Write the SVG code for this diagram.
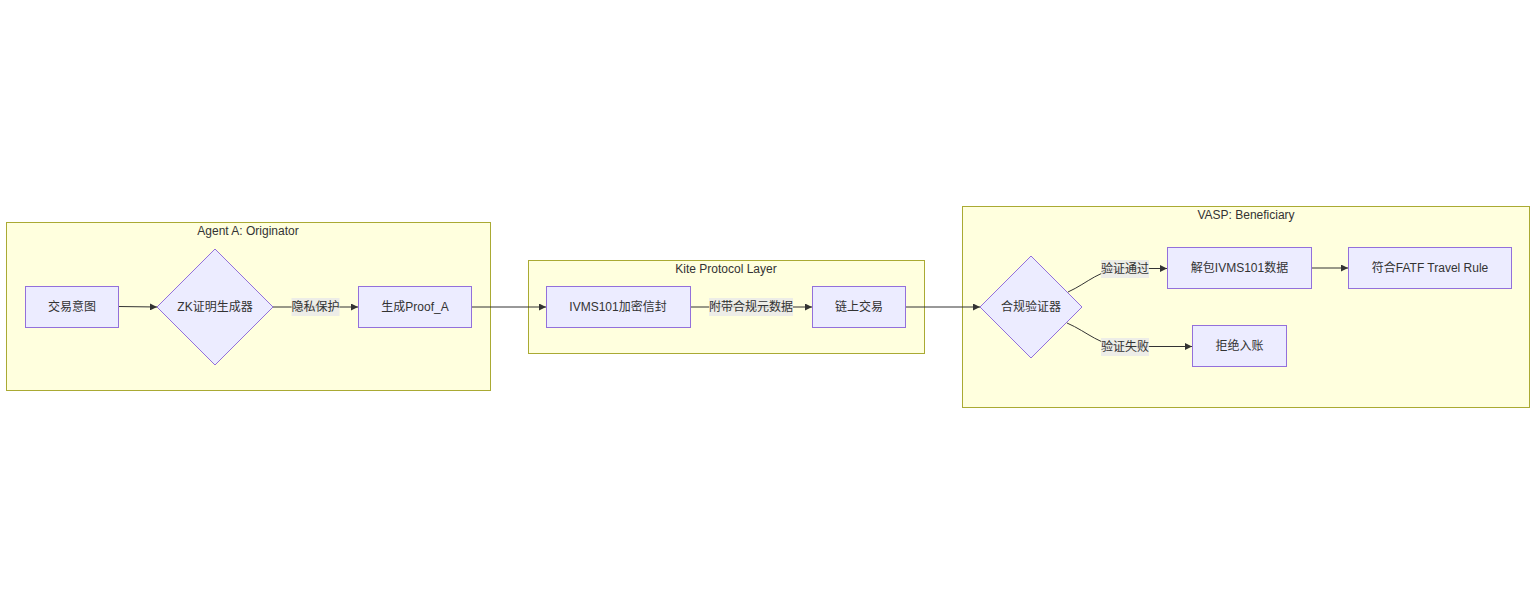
<svg xmlns="http://www.w3.org/2000/svg" width="1536" height="614" viewBox="0 0 1536 614">
<style>
  .cluster { fill: #ffffde; stroke: #aaaa33; stroke-width: 1; }
  .node { fill: #ececff; stroke: #9370db; stroke-width: 1; }
  .t { font-family: "Liberation Sans", Arial, "Noto Sans CJK SC", sans-serif; font-size: 12px; fill: #333333; text-anchor: middle; dominant-baseline: central; }
  .edge { fill: none; stroke: #333333; stroke-width: 1; }
  .lbl { fill: #e8e8e8; fill-opacity: 0.8; }
</style>
<defs>
  <marker id="arrow" viewBox="0 0 10 10" refX="10" refY="5" markerUnits="userSpaceOnUse" markerWidth="7" markerHeight="7" orient="auto">
    <path d="M0,0 L10,5 L0,10 z" fill="#333333"/>
  </marker>
</defs>
<rect width="1536" height="614" fill="#ffffff"/>

<g id="cluster-agentA">
  <rect class="cluster" x="6.5" y="222.5" width="484" height="168"/>
  <text class="t" x="248" y="231">Agent A: Originator</text>
</g>
<g id="cluster-kite">
  <rect class="cluster" x="528.5" y="260.5" width="396" height="93"/>
  <text class="t" x="726" y="269">Kite Protocol Layer</text>
</g>
<g id="cluster-vasp">
  <rect class="cluster" x="962.5" y="206.5" width="567" height="201"/>
  <text class="t" x="1246" y="215">VASP: Beneficiary</text>
</g>

<g id="edges">
  <path class="edge" d="M118,306.5 L157,307" marker-end="url(#arrow)"/>
  <path class="edge" d="M273,307 L358,307" marker-end="url(#arrow)"/>
  <path class="edge" d="M471,307 L546,307" marker-end="url(#arrow)"/>
  <path class="edge" d="M690,307 L812,307" marker-end="url(#arrow)"/>
  <path class="edge" d="M906,307 L980,307" marker-end="url(#arrow)"/>
  <path class="edge" d="M1068,292 C1088,283 1100,268.5 1125,268.5 L1167,268.5" marker-end="url(#arrow)"/>
  <path class="edge" d="M1311,268 L1348,268" marker-end="url(#arrow)"/>
  <path class="edge" d="M1067,323 C1088,332 1100,346.5 1125,346.5 L1192,346.5" marker-end="url(#arrow)"/>
</g>

<g id="edge-labels">
  <rect class="lbl" x="291.5" y="298" width="48" height="18"/>
  <text class="t" x="315.5" y="307">隐私保护</text>
  <rect class="lbl" x="709" y="298" width="84" height="18"/>
  <text class="t" x="751" y="307">附带合规元数据</text>
  <rect class="lbl" x="1101" y="260" width="48" height="18"/>
  <text class="t" x="1125" y="269">验证通过</text>
  <rect class="lbl" x="1101" y="338" width="48" height="18"/>
  <text class="t" x="1125" y="347">验证失败</text>
</g>

<g id="node-intent">
  <rect class="node" x="25.5" y="286.5" width="93" height="41"/>
  <text class="t" x="72" y="307">交易意图</text>
</g>
<g id="node-zk">
  <polygon class="node" points="215,249 273,307 215,365 157,307"/>
  <text class="t" x="215" y="307">ZK证明生成器</text>
</g>
<g id="node-proof">
  <rect class="node" x="358.5" y="286.5" width="113" height="41"/>
  <text class="t" x="415" y="307">生成Proof_A</text>
</g>
<g id="node-ivms">
  <rect class="node" x="546.5" y="286.5" width="144" height="41"/>
  <text class="t" x="618" y="307">IVMS101加密信封</text>
</g>
<g id="node-chain">
  <rect class="node" x="812.5" y="286.5" width="93" height="41"/>
  <text class="t" x="859" y="307">链上交易</text>
</g>
<g id="node-verifier">
  <polygon class="node" points="1031,256 1082,307 1031,358 980,307"/>
  <text class="t" x="1031" y="307">合规验证器</text>
</g>
<g id="node-unpack">
  <rect class="node" x="1167.5" y="247.5" width="144" height="41"/>
  <text class="t" x="1239.5" y="268">解包IVMS101数据</text>
</g>
<g id="node-fatf">
  <rect class="node" x="1348.5" y="247.5" width="163" height="41"/>
  <text class="t" x="1430" y="268">符合FATF Travel Rule</text>
</g>
<g id="node-reject">
  <rect class="node" x="1192.5" y="325.5" width="94" height="41"/>
  <text class="t" x="1239.5" y="346">拒绝入账</text>
</g>
</svg>
